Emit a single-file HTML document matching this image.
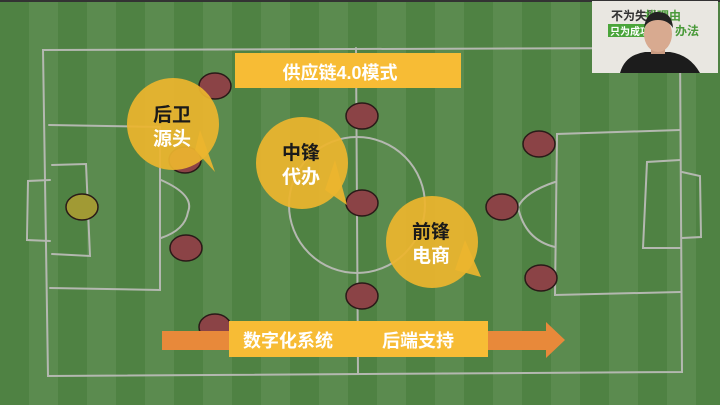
<!DOCTYPE html>
<html><head><meta charset="utf-8"><style>
html,body{margin:0;padding:0;width:720px;height:405px;overflow:hidden}
body{background:repeating-linear-gradient(90deg,#4f8243 0 29px,#5b8b4f 29px 58px);font-family:"Liberation Sans","Noto Sans CJK SC",sans-serif}
svg{position:absolute;left:0;top:0}
</style></head><body>
<svg width="720" height="405" viewBox="0 0 720 405">
<rect x="0" y="0" width="720" height="2" fill="#333"/>
<g fill="none" stroke="#b4b8b0" stroke-width="2" stroke-linecap="round">
<path d="M43 50 L680 48 L682 372 L48 376 Z"/>
<path d="M356 48 L358 374"/>
<circle cx="357" cy="205" r="68"/>
<path d="M49 125 L160 127 L160 290 L50 288"/>
<path d="M52 165 L86 164 L90 256 L52 254"/>
<path d="M50 180 L28 181 L27 240 L50 241"/>
<path d="M161 180 Q195 195 188 212 Q185 230 161 238"/>
<path d="M680 130 L557 134 L555 295 L680 292"/>
<path d="M680 160 L647 162 L643 248 L680 248"/>
<path d="M682 172 L700 176 L701 237 L682 238"/>
<path d="M555 182 Q525 192 518 207 Q525 240 555 247"/>
</g>
<g fill="#8b4346" stroke="#2a1a18" stroke-width="1.5">
<ellipse cx="215" cy="86" rx="16" ry="13"/>
<ellipse cx="185" cy="160" rx="16" ry="13"/>
<ellipse cx="186" cy="248" rx="16" ry="13"/>
<ellipse cx="215" cy="327" rx="16" ry="13"/>
<ellipse cx="362" cy="116" rx="16" ry="13"/>
<ellipse cx="362" cy="203" rx="16" ry="13"/>
<ellipse cx="362" cy="296" rx="16" ry="13"/>
<ellipse cx="539" cy="144" rx="16" ry="13"/>
<ellipse cx="502" cy="207" rx="16" ry="13"/>
<ellipse cx="541" cy="278" rx="16" ry="13"/>
<ellipse cx="82" cy="207" rx="16" ry="13" fill="#a19a34"/>
</g>
<g fill="#ecb52e" fill-opacity="0.93">
<circle cx="173" cy="124" r="46"/><path d="M195 150 L215 172 L200 130 Z"/>
<circle cx="302" cy="163" r="46"/><path d="M325 190 L347 205 L335 160 Z"/>
<circle cx="432" cy="242" r="46"/><path d="M455 270 L481 277 L465 240 Z"/>
</g>
<g font-weight="bold" font-size="19" text-anchor="middle" font-family="Liberation Sans,Noto Sans CJK SC,sans-serif">
<text x="172" y="121" fill="#1a1a1a">后卫</text><text x="172" y="145" fill="#fff">源头</text>
<text x="301" y="159" fill="#1a1a1a">中锋</text><text x="301" y="183" fill="#fff">代办</text>
<text x="431" y="238" fill="#1a1a1a">前锋</text><text x="431" y="262" fill="#fff">电商</text>
</g>
<rect x="235" y="53" width="226" height="35" fill="#f7bc35"/>
<text x="340" y="79" fill="#fff" font-size="18" font-weight="bold" text-anchor="middle" font-family="Liberation Sans,Noto Sans CJK SC,sans-serif">供应链4.0模式</text>
<rect x="162" y="331" width="70" height="19" fill="#e8893a"/>
<path d="M486 331 L546 331 L546 322 L565 340 L546 358 L546 350 L486 350 Z" fill="#e8893a"/>
<rect x="229" y="321" width="259" height="36" fill="#f7bc35"/>
<g fill="#fff" font-size="18" font-weight="bold" font-family="Liberation Sans,Noto Sans CJK SC,sans-serif">
<text x="243" y="347">数字化系统</text><text x="382" y="347">后端支持</text>
</g>
<rect x="592" y="1" width="126" height="72" fill="#e9e7e1"/>
<g font-size="12" font-weight="bold" font-family="Liberation Sans,Noto Sans CJK SC,sans-serif">
<text x="611" y="20" fill="#333">不为失败</text><text x="645" y="20" fill="#4a9a3a">找理由</text>
<rect x="608" y="24" width="44" height="13" fill="#4aa53a"/><text x="610" y="35" fill="#fff" font-size="10">只为成功</text>
<text x="675" y="35" fill="#4a9a3a">办法</text>
</g>
<path d="M620 73 Q625 55 645 52 L670 52 Q690 55 700 73 Z" fill="#1c1c1c"/>
<rect x="651" y="40" width="14" height="14" fill="#c99a80"/>
<ellipse cx="658" cy="34" rx="14" ry="18" fill="#d8aa90"/>
<path d="M644 28 Q646 12 658 12 Q672 12 673 28 Q668 20 658 20 Q648 20 644 28 Z" fill="#222"/>
</svg>
</body></html>
